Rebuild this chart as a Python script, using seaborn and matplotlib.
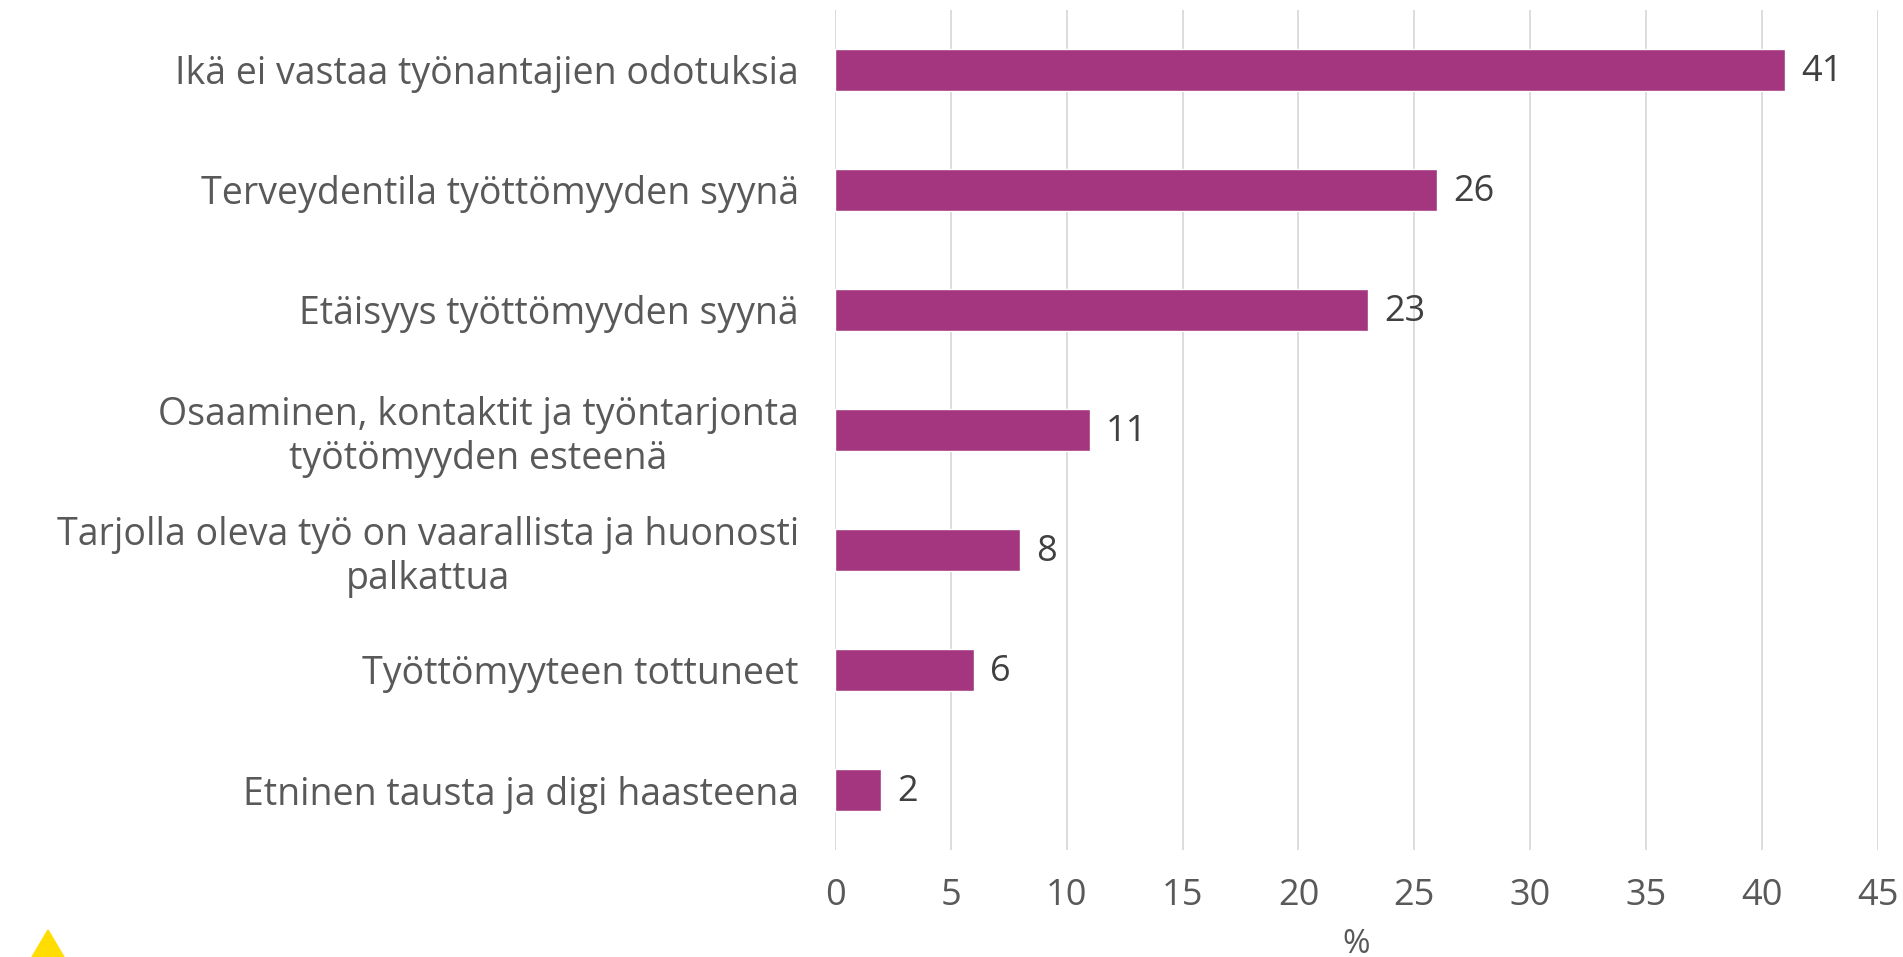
import matplotlib
matplotlib.use('Agg')
import matplotlib.pyplot as plt
import seaborn as sns
from matplotlib.patches import Polygon

# data
categories = [
    'Ikä ei vastaa työnantajien odotuksia',
    'Terveydentila työttömyyden syynä',
    'Etäisyys työttömyyden syynä',
    'Osaaminen, kontaktit ja työntarjonta\ntyötömyyden esteenä',
    'Tarjolla oleva työ on vaarallista ja huonosti\npalkattua',
    'Työttömyyteen tottuneet',
    'Etninen tausta ja digi haasteena',
]
values = [41, 26, 23, 11, 8, 6, 2]
xticks = [0, 5, 10, 15, 20, 25, 30, 35, 40, 45]

sns.set_theme(style='white')
plt.rcParams['font.family'] = ['Open Sans', 'DejaVu Sans']

fig = plt.figure(figsize=(19.03, 9.57), dpi=100)
ax = fig.add_axes([0.4388, 0.1118, 0.9867 - 0.4388, 0.9896 - 0.1118])

sns.barplot(x=values, y=categories, orient='h', color='#A3367F',
            saturation=1, width=0.35, ax=ax)

for i, v in enumerate(values):
    ax.text(v + 0.7, i + 0.02, str(v), va='center', ha='left', fontsize=26, color='#404040')

ax.set_xlim(0, 45)
ax.set_ylim(6.5, -0.5)
ax.set_xticks(xticks)
ax.xaxis.grid(True, color='#D9D9D9', linewidth=1.3)
ax.set_axisbelow(True)
for s in ax.spines.values():
    s.set_visible(False)
ax.tick_params(axis='x', length=0, pad=20, labelsize=26, labelcolor='#595959')
ax.tick_params(axis='y', length=0, pad=26, labelsize=27, labelcolor='#595959')
for lbl in ax.get_yticklabels():
    lbl.set_multialignment('center')
ax.set_xlabel('%', fontsize=24, color='#595959', labelpad=10)
ax.set_ylabel('')

# small yellow triangle in the corner
tri = Polygon([[32 / 1903, 0], [64 / 1903, 0], [48 / 1903, 27 / 957]],
              closed=True, transform=fig.transFigure, color='#FFDD00', clip_on=False)
fig.patches.append(tri)

fig.savefig('out.png', dpi=100)
